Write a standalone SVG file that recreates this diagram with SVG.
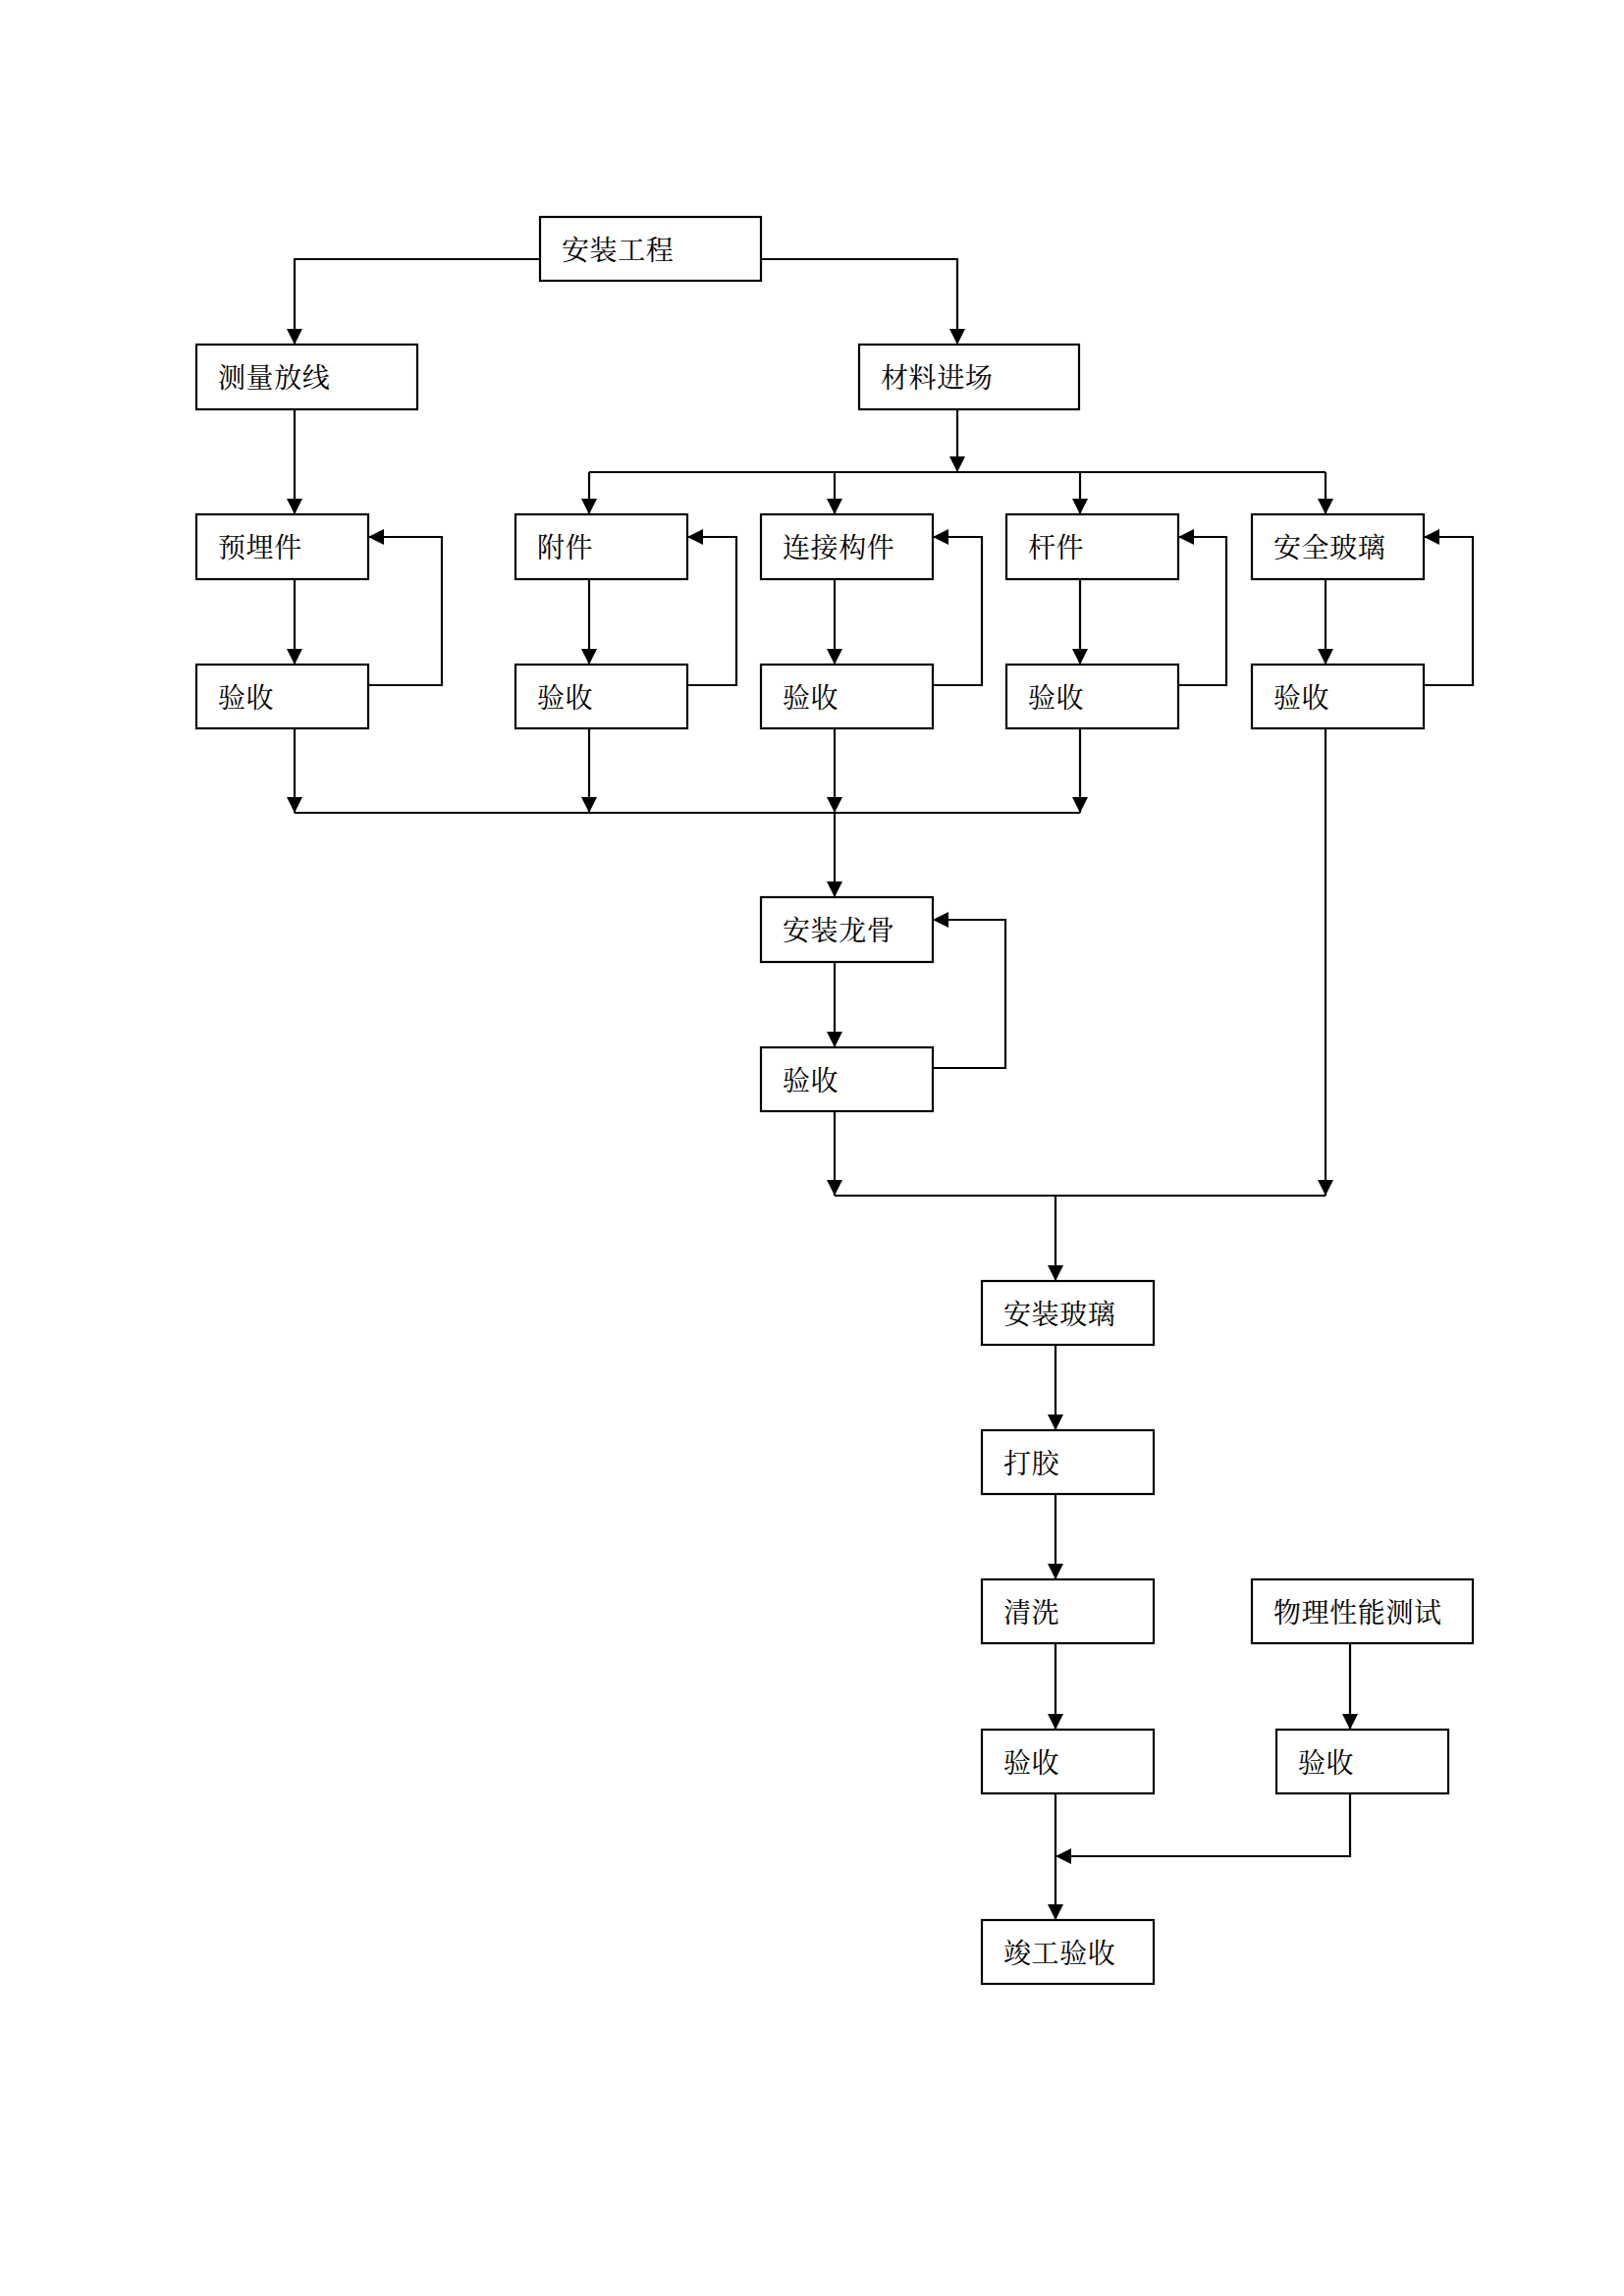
<svg xmlns="http://www.w3.org/2000/svg" width="1654" height="2339" viewBox="0 0 1654 2339">
<style>
.box{fill:#fff;stroke:#000;stroke-width:2.2}
.t{font-family:'Noto Serif CJK SC','Noto Sans CJK SC',serif;font-size:28px;letter-spacing:0.6px;fill:#000}
.c{fill:none;stroke:#000;stroke-width:2.2}
</style>
<defs>
<marker id="ah" markerUnits="userSpaceOnUse" markerWidth="16" markerHeight="16" refX="16" refY="8" orient="auto" viewBox="0 0 16 16">
<path d="M0,0 L16,8 L0,16 z" fill="#000"/>
</marker>
</defs>
<rect width="1654" height="2339" fill="#fff"/>
<g id="connectors">
<path class="c" d="M550,264 H300 V351" marker-end="url(#ah)"/>
<path class="c" d="M775,264 H975 V351" marker-end="url(#ah)"/>
<path class="c" d="M300,417 V524" marker-end="url(#ah)"/>
<path class="c" d="M975,417 V481" marker-end="url(#ah)"/>
<path class="c" d="M600,481 H1350"/>
<path class="c" d="M600,481 V524" marker-end="url(#ah)"/>
<path class="c" d="M850,481 V524" marker-end="url(#ah)"/>
<path class="c" d="M1100,481 V524" marker-end="url(#ah)"/>
<path class="c" d="M1350,481 V524" marker-end="url(#ah)"/>
<path class="c" d="M300,590 V677" marker-end="url(#ah)"/>
<path class="c" d="M600,590 V677" marker-end="url(#ah)"/>
<path class="c" d="M850,590 V677" marker-end="url(#ah)"/>
<path class="c" d="M1100,590 V677" marker-end="url(#ah)"/>
<path class="c" d="M1350,590 V677" marker-end="url(#ah)"/>
<path class="c" d="M375,698 H450 V547 H375" marker-end="url(#ah)"/>
<path class="c" d="M700,698 H750 V547 H700" marker-end="url(#ah)"/>
<path class="c" d="M950,698 H1000 V547 H950" marker-end="url(#ah)"/>
<path class="c" d="M1200,698 H1249 V547 H1200" marker-end="url(#ah)"/>
<path class="c" d="M1450,698 H1500 V547 H1450" marker-end="url(#ah)"/>
<path class="c" d="M300,742 V828" marker-end="url(#ah)"/>
<path class="c" d="M600,742 V828" marker-end="url(#ah)"/>
<path class="c" d="M850,742 V828" marker-end="url(#ah)"/>
<path class="c" d="M1100,742 V828" marker-end="url(#ah)"/>
<path class="c" d="M300,828 H1100"/>
<path class="c" d="M850,828 V914" marker-end="url(#ah)"/>
<path class="c" d="M1350,742 V1218" marker-end="url(#ah)"/>
<path class="c" d="M850,980 V1067" marker-end="url(#ah)"/>
<path class="c" d="M950,1088 H1024 V937 H950" marker-end="url(#ah)"/>
<path class="c" d="M850,1132 V1218" marker-end="url(#ah)"/>
<path class="c" d="M850,1218 H1350"/>
<path class="c" d="M1075,1218 V1305" marker-end="url(#ah)"/>
<path class="c" d="M1075,1370 V1457" marker-end="url(#ah)"/>
<path class="c" d="M1075,1522 V1609" marker-end="url(#ah)"/>
<path class="c" d="M1075,1674 V1762" marker-end="url(#ah)"/>
<path class="c" d="M1075,1827 V1956" marker-end="url(#ah)"/>
<path class="c" d="M1375,1674 V1762" marker-end="url(#ah)"/>
<path class="c" d="M1375,1827 V1891 H1075" marker-end="url(#ah)"/>
</g>
<g id="n-azgc"><rect class="box" x="550" y="221" width="225" height="65"/><text class="t" x="572" y="265">安装工程</text></g>
<g id="n-clfx"><rect class="box" x="200" y="351" width="225" height="66"/><text class="t" x="222" y="395">测量放线</text></g>
<g id="n-cljc"><rect class="box" x="875" y="351" width="224" height="66"/><text class="t" x="897" y="395">材料进场</text></g>
<g id="n-ymj"><rect class="box" x="200" y="524" width="175" height="66"/><text class="t" x="222" y="568">预埋件</text></g>
<g id="n-fj"><rect class="box" x="525" y="524" width="175" height="66"/><text class="t" x="547" y="568">附件</text></g>
<g id="n-ljgj"><rect class="box" x="775" y="524" width="175" height="66"/><text class="t" x="797" y="568">连接构件</text></g>
<g id="n-gj"><rect class="box" x="1025" y="524" width="175" height="66"/><text class="t" x="1047" y="568">杆件</text></g>
<g id="n-aqbl"><rect class="box" x="1275" y="524" width="175" height="66"/><text class="t" x="1297" y="568">安全玻璃</text></g>
<g id="n-ys1"><rect class="box" x="200" y="677" width="175" height="65"/><text class="t" x="222" y="721">验收</text></g>
<g id="n-ys2"><rect class="box" x="525" y="677" width="175" height="65"/><text class="t" x="547" y="721">验收</text></g>
<g id="n-ys3"><rect class="box" x="775" y="677" width="175" height="65"/><text class="t" x="797" y="721">验收</text></g>
<g id="n-ys4"><rect class="box" x="1025" y="677" width="175" height="65"/><text class="t" x="1047" y="721">验收</text></g>
<g id="n-ys5"><rect class="box" x="1275" y="677" width="175" height="65"/><text class="t" x="1297" y="721">验收</text></g>
<g id="n-azlg"><rect class="box" x="775" y="914" width="175" height="66"/><text class="t" x="797" y="958">安装龙骨</text></g>
<g id="n-ys6"><rect class="box" x="775" y="1067" width="175" height="65"/><text class="t" x="797" y="1111">验收</text></g>
<g id="n-azbl"><rect class="box" x="1000" y="1305" width="175" height="65"/><text class="t" x="1022" y="1349">安装玻璃</text></g>
<g id="n-dj"><rect class="box" x="1000" y="1457" width="175" height="65"/><text class="t" x="1022" y="1501">打胶</text></g>
<g id="n-qx"><rect class="box" x="1000" y="1609" width="175" height="65"/><text class="t" x="1022" y="1653">清洗</text></g>
<g id="n-ys7"><rect class="box" x="1000" y="1762" width="175" height="65"/><text class="t" x="1022" y="1806">验收</text></g>
<g id="n-jgys"><rect class="box" x="1000" y="1956" width="175" height="65"/><text class="t" x="1022" y="2000">竣工验收</text></g>
<g id="n-wlxn"><rect class="box" x="1275" y="1609" width="225" height="65"/><text class="t" x="1297" y="1653">物理性能测试</text></g>
<g id="n-ys8"><rect class="box" x="1300" y="1762" width="175" height="65"/><text class="t" x="1322" y="1806">验收</text></g>
</svg>
